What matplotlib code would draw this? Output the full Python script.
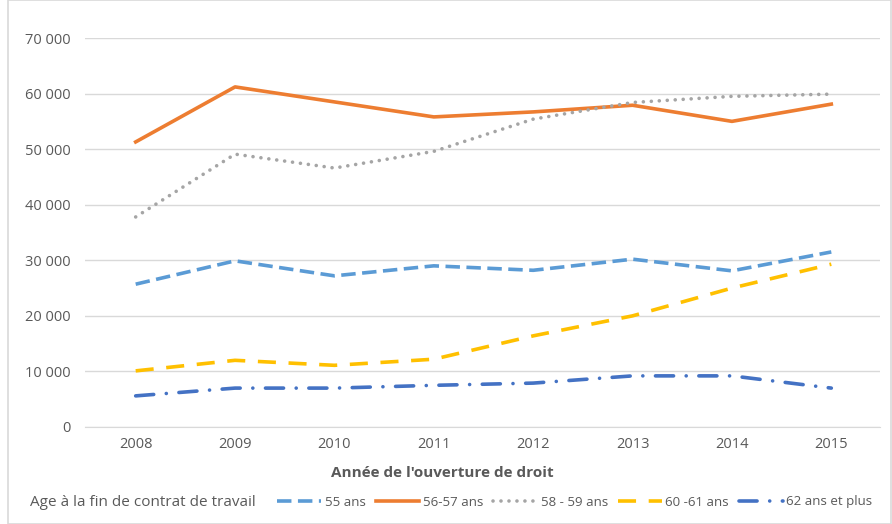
import matplotlib
matplotlib.use("Agg")
import matplotlib.pyplot as plt
from matplotlib.patches import Rectangle

years = [2008, 2009, 2010, 2011, 2012, 2013, 2014, 2015]
s55 = [25700, 29900, 27200, 29000, 28200, 30200, 28100, 31500]
s5657 = [51300, 61200, 58500, 55800, 56700, 57900, 55000, 58100]
s5859 = [37800, 49100, 46600, 49600, 55400, 58400, 59500, 59900]
s6061 = [10100, 12000, 11100, 12200, 16400, 20000, 25000, 29300]
s62 = [5600, 7000, 7000, 7500, 7900, 9200, 9200, 7000]
labels = ["55 ans", "56-57 ans", "58 - 59 ans", "60 -61 ans", "62 ans et plus"]
yticks = [0, 10000, 20000, 30000, 40000, 50000, 60000, 70000]

plt.rcParams['font.family'] = ['Open Sans', 'DejaVu Sans']
grey = '#595959'

fig = plt.figure(figsize=(8.92, 5.24), dpi=100)
ax = fig.add_axes([85/892, 1-427/524, (880-85)/892, (427-38)/524])

lw = 2.6
ax.plot(years, s55, color='#5B9BD5', lw=lw, dashes=(4, 1.8), label=labels[0])
ax.plot(years, s5657, color='#ED7D31', lw=lw, label=labels[1])
ax.plot(years, s5859, color='#A5A5A5', lw=lw, dashes=(0.01, 2.2), dash_capstyle='round', label=labels[2])
ax.plot(years, s6061, color='#FFC000', lw=lw, dashes=(5, 3.5), label=labels[3])
ax.plot(years, s62, color='#4472C4', lw=lw, dashes=(5, 3.5, 0.01, 3.5), dash_capstyle='round', label=labels[4])

ax.set_xlim(2007.49, 2015.49)
ax.set_ylim(0, 70000)
ax.set_xticks(years)
ax.set_xticklabels([str(y) for y in years])
ax.set_yticks(yticks)
ax.set_yticklabels([f"{v:,}".replace(",", " ") if v else "0" for v in yticks])
ax.tick_params(axis='both', length=0, colors=grey, labelsize=10.5)
ax.tick_params(axis='y', pad=10)
ax.tick_params(axis='x', pad=7)
ax.grid(axis='y', color='#D9D9D9', lw=1)
ax.set_axisbelow(True)
for sp in ['top', 'right', 'left']:
    ax.spines[sp].set_visible(False)
ax.spines['bottom'].set_color('#D9D9D9')

ax.set_xlabel("Année de l'ouverture de droit", fontsize=11, fontweight='bold', color=grey, labelpad=10)
ax.xaxis.label.set_x((442 - 85) / 795)

fig.text(30/892, 1-503/524, "Age à la fin de contrat de travail", fontsize=11, color=grey, va='center', ha='left')
leg = fig.legend(loc='center left', bbox_to_anchor=(272/892, 1-502/524), ncol=5, frameon=False,
                 fontsize=9.5, handlelength=3.3, columnspacing=0.75, handletextpad=0.3, borderaxespad=0)
for t in leg.get_texts():
    t.set_color(grey)

fig.patches.append(Rectangle((8/892, 0), 1 - 9/892, 1, transform=fig.transFigure, fill=False,
                             edgecolor='#D9D9D9', lw=1.2))

fig.savefig("out.png", dpi=100)
